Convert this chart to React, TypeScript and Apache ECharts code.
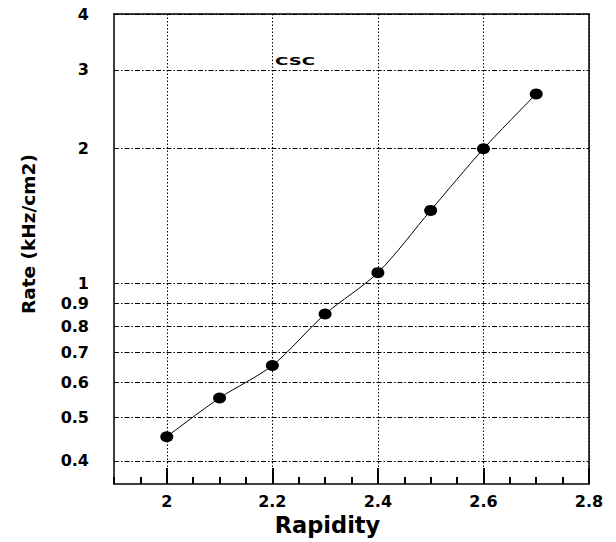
import React, { useEffect, useRef } from "react";
import * as echarts from "echarts";

// Rapidity points and measured rate (kHz/cm2)
const rapidity = [2.0, 2.1, 2.2, 2.3, 2.4, 2.5, 2.6, 2.7];
const rate = [0.453, 0.553, 0.654, 0.852, 1.055, 1.454, 1.997, 2.65];

// Axis tick values
const xMajorTicks = [2.0, 2.2, 2.4, 2.6, 2.8];
const yTicks = [0.4, 0.5, 0.6, 0.7, 0.8, 0.9, 1, 2, 3, 4];

const X_MIN = 1.9;
const X_MAX = 2.8;
const Y_MIN = 0.355;
const Y_MAX = 4;

const labelFont = {
  fontFamily: "DejaVu Sans",
  fontWeight: "bold" as const,
  fontSize: 16,
  color: "#000",
};

const frameLine = () => ({ show: true, onZero: false, lineStyle: { color: "#000", width: 1.5 } });

export default function App() {
  const ref = useRef<HTMLDivElement>(null);

  useEffect(() => {
    if (!ref.current) return;
    const chart = echarts.init(ref.current, null, { renderer: "svg" });
    chart.setOption({
      animation: false,
      backgroundColor: "#fff",
      grid: { left: 114, top: 14, right: 27, bottom: 58 },
      xAxis: [
        {
          // short ticks every 0.05, labels on the major values
          type: "value",
          position: "bottom",
          min: X_MIN,
          max: X_MAX,
          interval: 0.05,
          name: "Rapidity",
          nameLocation: "middle",
          nameGap: 28,
          nameTextStyle: {
            fontFamily: "DejaVu Sans",
            fontWeight: "bold",
            fontSize: 22.5,
            color: "#000",
            padding: [0, 48, 0, 0],
          },
          axisLine: frameLine(),
          axisTick: {
            show: true,
            inside: true,
            length: 7,
            lineStyle: { color: "#000", width: 2 },
          },
          axisLabel: {
            ...labelFont,
            margin: 9,
            customValues: xMajorTicks,
            formatter: (v: number) => String(Math.round(v * 10) / 10),
          },
          splitLine: { show: false },
        },
        {
          // long ticks and vertical grid lines on the major values
          type: "value",
          position: "bottom",
          min: X_MIN,
          max: X_MAX,
          axisLine: { show: false, onZero: false },
          axisTick: {
            show: true,
            inside: true,
            length: 16,
            customValues: xMajorTicks,
            lineStyle: { color: "#000", width: 2 },
          },
          axisLabel: { show: false, customValues: xMajorTicks },
          splitLine: {
            show: true,
            lineStyle: { color: "#000", width: 1, type: [1.5, 2] },
          },
        },
        {
          // top frame
          type: "value",
          position: "top",
          min: X_MIN,
          max: X_MAX,
          axisLine: frameLine(),
          axisTick: { show: false },
          axisLabel: { show: false },
          splitLine: { show: false },
        },
      ],
      yAxis: [
        {
          type: "log",
          logBase: 10,
          position: "left",
          min: Y_MIN,
          max: Y_MAX,
          name: "Rate (kHz/cm2)",
          nameLocation: "middle",
          nameGap: 76,
          nameTextStyle: {
            fontFamily: "DejaVu Sans",
            fontWeight: "bold",
            fontSize: 18.5,
            color: "#000",
            padding: [0, 0, 0, 30],
          },
          axisLine: frameLine(),
          axisTick: { show: false, customValues: yTicks },
          axisLabel: {
            ...labelFont,
            margin: 25,
            customValues: yTicks,
            formatter: (v: number) => String(Math.round(v * 10) / 10),
          },
          splitLine: {
            show: true,
            lineStyle: { color: "#000", width: 1, type: [5, 2, 1.5, 2] },
          },
        },
        {
          // right frame
          type: "log",
          logBase: 10,
          position: "right",
          min: Y_MIN,
          max: Y_MAX,
          axisLine: frameLine(),
          axisTick: { show: false },
          axisLabel: { show: false },
          splitLine: { show: false },
        },
      ],
      graphic: [
        {
          type: "text",
          x: 275,
          y: 61,
          scaleX: 1.65,
          style: {
            text: "CSC",
            font: 'bold 11px "DejaVu Sans"',
            fill: "#000",
            textVerticalAlign: "middle",
          },
        },
      ],
      series: [
        {
          type: "line",
          xAxisIndex: 0,
          yAxisIndex: 0,
          data: rapidity.map((x, i) => [x, rate[i]]),
          smooth: 0.3,
          symbol: "circle",
          symbolSize: [13, 11],
          itemStyle: { color: "#000" },
          lineStyle: { color: "#000", width: 1 },
        },
      ],
    });
    return () => chart.dispose();
  }, []);

  return (
    <div
      ref={ref}
      style={{ position: "fixed", left: 0, top: 0, width: 616, height: 542 }}
    />
  );
}
